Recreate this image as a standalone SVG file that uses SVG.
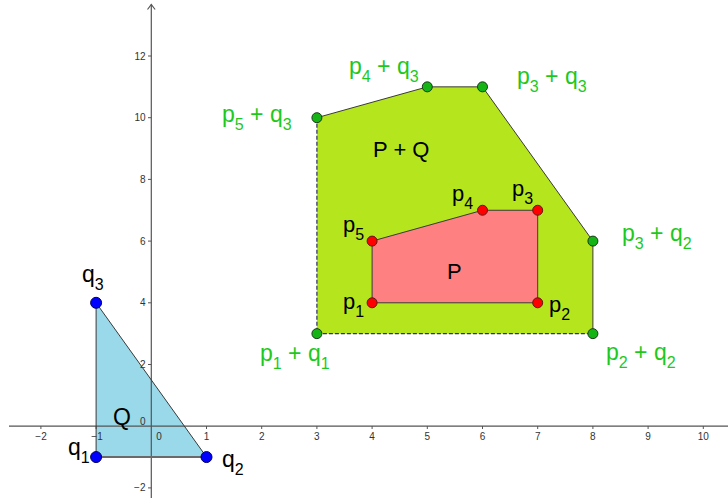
<svg xmlns="http://www.w3.org/2000/svg" width="728" height="502" viewBox="0 0 728 502">
<style>
text{font-family:"Liberation Sans",Arial,sans-serif}
.tick{font-size:10px;fill:#333}
.tx{text-anchor:middle}
.ty{text-anchor:end}
.axis{stroke:#555;stroke-width:1.2;fill:none}
.tk{stroke:#555;stroke-width:1}
.lbl{font-size:22px;fill:#000}
.qlbl{font-size:23px;fill:#000}
.glbl{font-size:23px;fill:#1ec81e}
.sub{font-size:16px}
.edge{stroke:#3a3a3a;stroke-width:1;fill:none}
.gpt{fill:#14b414;stroke:#1c3a1c;stroke-width:1}
.rpt{fill:#ff0000;stroke:#5a1a1a;stroke-width:1}
.bpt{fill:#0000ff;stroke:#00005a;stroke-width:1}
</style>
<rect width="728" height="502" fill="#fff"/>
<g id="poly-PQ">
<polygon points="316.9,333.65 592.9,333.65 592.9,241.1 482.5,86.85 427.3,86.85 316.9,117.7" fill="#b5e61d"/>
</g>
<g id="poly-P">
<polygon points="372.1,302.8 537.7,302.8 537.7,210.25 482.5,210.25 372.1,241.1" fill="#ff8080"/>
</g>
<g id="poly-Q">
<polygon points="96.1,457.05 206.5,457.05 96.1,302.8" fill="#99d9ea"/>
</g>
<g id="axes">
<line class="axis" x1="9" y1="426.2" x2="728" y2="426.2"/>
<line class="axis" x1="151.3" y1="4.5" x2="151.3" y2="498"/>
<polyline class="axis" points="147.5,9.5 151.3,4.5 155.1,9.5"/>
<g class="tk">
<line x1="40.9" y1="426" x2="40.9" y2="429"/>
<line x1="96.1" y1="426" x2="96.1" y2="429"/>
<line x1="206.5" y1="426" x2="206.5" y2="429"/>
<line x1="261.7" y1="426" x2="261.7" y2="429"/>
<line x1="316.9" y1="426" x2="316.9" y2="429"/>
<line x1="372.1" y1="426" x2="372.1" y2="429"/>
<line x1="427.3" y1="426" x2="427.3" y2="429"/>
<line x1="482.5" y1="426" x2="482.5" y2="429"/>
<line x1="537.7" y1="426" x2="537.7" y2="429"/>
<line x1="592.9" y1="426" x2="592.9" y2="429"/>
<line x1="648.1" y1="426" x2="648.1" y2="429"/>
<line x1="703.3" y1="426" x2="703.3" y2="429"/>
<line x1="148" y1="56" x2="151.3" y2="56"/>
<line x1="148" y1="117.7" x2="151.3" y2="117.7"/>
<line x1="148" y1="179.4" x2="151.3" y2="179.4"/>
<line x1="148" y1="241.1" x2="151.3" y2="241.1"/>
<line x1="148" y1="302.8" x2="151.3" y2="302.8"/>
<line x1="148" y1="364.5" x2="151.3" y2="364.5"/>
<line x1="148" y1="487.9" x2="151.3" y2="487.9"/>
</g>
<g class="tick tx">
<text x="41" y="440">−2</text>
<text x="97" y="440">−1</text>
<text x="159" y="440">0</text>
<text x="206.5" y="440">1</text>
<text x="261.7" y="440">2</text>
<text x="316.9" y="440">3</text>
<text x="372.1" y="440">4</text>
<text x="427.3" y="440">5</text>
<text x="482.5" y="440">6</text>
<text x="537.7" y="440">7</text>
<text x="592.9" y="440">8</text>
<text x="648.1" y="440">9</text>
<text x="703.3" y="440">10</text>
</g>
<g class="tick ty">
<text x="145.5" y="59.5">12</text>
<text x="145.5" y="121.2">10</text>
<text x="145.5" y="182.9">8</text>
<text x="145.5" y="244.6">6</text>
<text x="145.5" y="306.3">4</text>
<text x="145.5" y="368">2</text>
<text x="145.5" y="424.5">0</text>
<text x="145.5" y="491.4">−2</text>
</g>
</g>
<g id="connectors">
<line class="edge" x1="592.9" y1="333.65" x2="592.9" y2="241.1"/>
<line class="edge" x1="592.9" y1="241.1" x2="482.5" y2="86.85"/>
<line class="edge" x1="482.5" y1="86.85" x2="427.3" y2="86.85"/>
<line class="edge" x1="427.3" y1="86.85" x2="316.9" y2="117.7"/>
<line x1="316.9" y1="117.7" x2="316.9" y2="333.65" stroke="#2e2e6a" stroke-width="1.2" stroke-dasharray="4 2"/>
<line x1="316.9" y1="333.65" x2="592.9" y2="333.65" stroke="#2e2e6a" stroke-width="1.2" stroke-dasharray="4 2"/>
<polygon class="edge" points="372.1,302.8 537.7,302.8 537.7,210.25 482.5,210.25 372.1,241.1"/>
<line class="edge" x1="96.1" y1="457.05" x2="96.1" y2="302.8"/>
<line class="edge" x1="96.1" y1="302.8" x2="206.5" y2="457.05"/>
<line x1="96.1" y1="457.05" x2="206.5" y2="457.05" stroke="#6a6a6a" stroke-width="2"/>
</g>
<g id="label-PQ"><text class="lbl" x="373" y="157" font-size="21">P + Q</text></g>
<g id="label-P"><text class="lbl" x="447" y="279" font-size="21">P</text></g>
<g id="label-Q"><text class="qlbl" x="113" y="425">Q</text></g>
<g id="p1q1"><circle class="gpt" cx="316.9" cy="333.65" r="5"/><text class="glbl" x="260" y="361">p<tspan class="sub" dy="8">1</tspan><tspan dy="-8"> + q</tspan><tspan class="sub" dy="8">1</tspan></text></g>
<g id="p2q2"><circle class="gpt" cx="592.9" cy="333.65" r="5"/><text class="glbl" x="606" y="360">p<tspan class="sub" dy="8">2</tspan><tspan dy="-8"> + q</tspan><tspan class="sub" dy="8">2</tspan></text></g>
<g id="p3q2"><circle class="gpt" cx="592.9" cy="241.1" r="5"/><text class="glbl" x="622" y="241">p<tspan class="sub" dy="8">3</tspan><tspan dy="-8"> + q</tspan><tspan class="sub" dy="8">2</tspan></text></g>
<g id="p3q3"><circle class="gpt" cx="482.5" cy="86.85" r="5"/><text class="glbl" x="517" y="84">p<tspan class="sub" dy="8">3</tspan><tspan dy="-8"> + q</tspan><tspan class="sub" dy="8">3</tspan></text></g>
<g id="p4q3"><circle class="gpt" cx="427.3" cy="86.85" r="5"/><text class="glbl" x="349" y="74">p<tspan class="sub" dy="8">4</tspan><tspan dy="-8"> + q</tspan><tspan class="sub" dy="8">3</tspan></text></g>
<g id="p5q3"><circle class="gpt" cx="316.9" cy="117.7" r="5"/><text class="glbl" x="222" y="122">p<tspan class="sub" dy="8">5</tspan><tspan dy="-8"> + q</tspan><tspan class="sub" dy="8">3</tspan></text></g>
<g id="p1"><circle class="rpt" cx="372.1" cy="302.8" r="5"/><text class="lbl" x="343" y="309">p<tspan class="sub" dy="8">1</tspan></text></g>
<g id="p2"><circle class="rpt" cx="537.7" cy="302.8" r="5"/><text class="lbl" x="549" y="312">p<tspan class="sub" dy="8">2</tspan></text></g>
<g id="p3"><circle class="rpt" cx="537.7" cy="210.25" r="5"/><text class="lbl" x="512" y="196">p<tspan class="sub" dy="8">3</tspan></text></g>
<g id="p4"><circle class="rpt" cx="482.5" cy="210.25" r="5"/><text class="lbl" x="452" y="201">p<tspan class="sub" dy="8">4</tspan></text></g>
<g id="p5"><circle class="rpt" cx="372.1" cy="241.1" r="5"/><text class="lbl" x="343" y="232">p<tspan class="sub" dy="8">5</tspan></text></g>
<g id="q1"><circle class="bpt" cx="96.1" cy="457.05" r="5.5"/><text class="qlbl" x="68" y="455">q<tspan class="sub" dy="8">1</tspan></text></g>
<g id="q2"><circle class="bpt" cx="206.5" cy="457.05" r="5.5"/><text class="qlbl" x="222" y="467">q<tspan class="sub" dy="8">2</tspan></text></g>
<g id="q3"><circle class="bpt" cx="96.1" cy="302.8" r="5.5"/><text class="qlbl" x="82" y="282">q<tspan class="sub" dy="8">3</tspan></text></g>
</svg>
